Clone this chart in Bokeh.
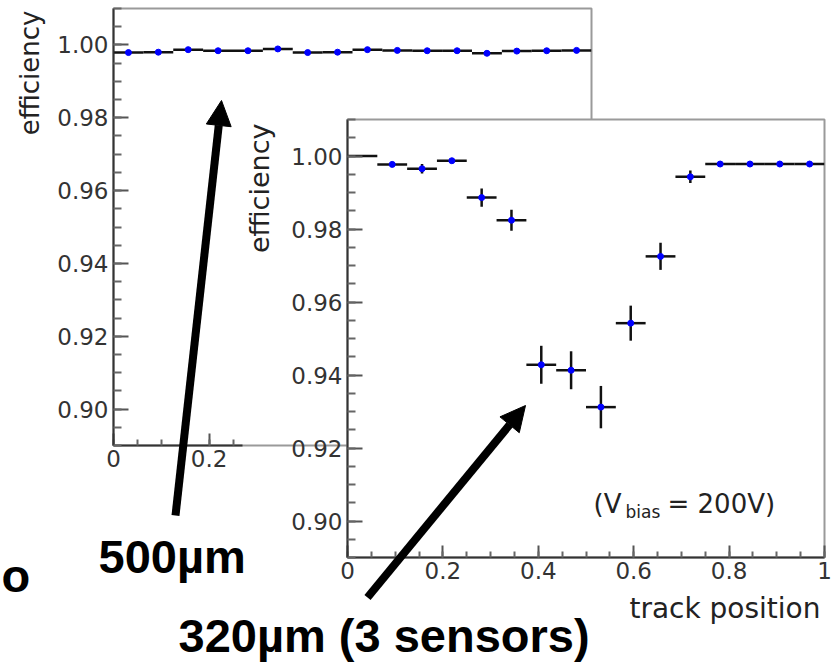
import numpy as np
from bokeh.plotting import figure
from bokeh.models import (ColumnDataSource, Range1d, SingleIntervalTicker, NumeralTickFormatter,
                          CustomJSTickFormatter, Label, Arrow, NormalHead)
from bokeh.embed import file_html
from bokeh.resources import INLINE

# ---------------- data ----------------
bin_width = 0.0625
bin_centers = [0.03125, 0.09375, 0.15625, 0.21875, 0.28125, 0.34375, 0.40625, 0.46875,
               0.53125, 0.59375, 0.65625, 0.71875, 0.78125, 0.84375, 0.90625, 0.96875]

# 500 um sensor (back panel)
eff_500 = [0.9979, 0.9980, 0.9987, 0.9984, 0.9984, 0.9989, 0.9979, 0.9980,
           0.9987, 0.9985, 0.9984, 0.9984, 0.9977, 0.9983, 0.9984, 0.9985]
err_500 = [0.0003, 0.0003, 0.0003, 0.0003, 0.0003, 0.0003, 0.0003, 0.0003,
           0.0003, 0.0003, 0.0003, 0.0003, 0.0003, 0.0003, 0.0003, 0.0003]

# 320 um (3 sensors) (front panel)
eff_320 = [1.0000, 0.9977, 0.9965, 0.9987, 0.9886, 0.9824, 0.9428, 0.9413,
           0.9312, 0.9542, 0.9725, 0.9943, 0.9978, 0.9978, 0.9978, 0.9978]
err_320 = [0.0000, 0.0007, 0.0013, 0.0004, 0.0025, 0.0029, 0.0052, 0.0052,
           0.0058, 0.0048, 0.0037, 0.0017, 0.0004, 0.0003, 0.0003, 0.0003]

y_label = "efficiency"
x_label = "track position"
label_500 = "500µm"
label_320 = "320µm (3 sensors)"

FONT = "DejaVu Sans"
BOLD = "Liberation Sans"
W, H = 835, 662


def make_source(eff, err, hide_full=False):
    x = np.array(bin_centers)
    e = np.array(eff)
    s = np.array(err)
    marker_y = np.where(e >= 1.0, np.nan, e) if hide_full else e
    return ColumnDataSource(dict(
        x=x, x0=x - bin_width / 2, x1=x + bin_width / 2,
        y=e, ylo=e - s, yhi=e + s, my=marker_y))


def style(p):
    p.xgrid.visible = False
    p.ygrid.visible = False
    p.background_fill_color = "white"
    p.outline_line_color = "#9a9a9a"
    p.outline_line_width = 2
    for ax in (p.xaxis[0], p.yaxis[0]):
        ax.axis_line_color = "#333333"
        ax.axis_line_width = 2
        ax.major_tick_line_color = "#555555"
        ax.minor_tick_line_color = "#666666"
        ax.major_tick_line_width = 2
        ax.minor_tick_line_width = 2
        ax.major_tick_out = 0
        ax.minor_tick_out = 0
        ax.major_label_text_font = FONT
        ax.major_label_text_font_size = "23px"
        ax.major_label_text_color = "#333333"
    p.xaxis.ticker = SingleIntervalTicker(interval=0.2, num_minor_ticks=4)
    p.yaxis.ticker = SingleIntervalTicker(interval=0.02, num_minor_ticks=4)
    p.xaxis.formatter = CustomJSTickFormatter(code="return Number(tick.toFixed(2)).toString();")
    p.yaxis.formatter = NumeralTickFormatter(format="0.00")
    p.xaxis.major_tick_in = 12
    p.xaxis.minor_tick_in = 6
    p.yaxis.major_tick_in = 15
    p.yaxis.minor_tick_in = 8
    p.yaxis.major_label_standoff = 5
    p.xaxis.major_label_standoff = 4


def draw_hist(p, src):
    p.segment(x0="x0", x1="x1", y0="y", y1="y", source=src, line_color="#111111", line_width=2.5)
    p.segment(x0="x", x1="x", y0="ylo", y1="yhi", source=src, line_color="#111111", line_width=2.5)
    p.scatter(x="x", y="my", source=src, size=6, marker="circle",
              fill_color="#0000ff", line_color="#0000ff")


# ---------------- back panel: 500um ----------------
p_back = figure(width=W, height=H, x_range=Range1d(0, 1), y_range=Range1d(0.89, 1.01),
                min_border_left=113, min_border_right=244, min_border_top=8, min_border_bottom=217,
                toolbar_location=None, output_backend="svg")
style(p_back)
p_back.xaxis.bounds = (0, 0.27)
p_back.border_fill_color = "white"
draw_hist(p_back, make_source(eff_500, err_500))

# ---------------- front panel: 320um ----------------
p_front = figure(width=W, height=H, x_range=Range1d(0, 1), y_range=Range1d(0.89, 1.01),
                 min_border_left=347, min_border_right=11, min_border_top=119, min_border_bottom=105,
                 toolbar_location=None, output_backend="svg")
style(p_front)
p_front.border_fill_alpha = 0
draw_hist(p_front, make_source(eff_320, err_320, hide_full=True))

# ---------------- overlay: texts and arrows (page pixel frame) ----------------
p_over = figure(width=W, height=H, x_range=Range1d(0, W), y_range=Range1d(H, 0),
                min_border=0, min_border_left=0, min_border_right=0, min_border_top=0,
                min_border_bottom=0, toolbar_location=None, output_backend="svg",
                x_axis_type=None, y_axis_type=None)
p_over.xgrid.visible = False
p_over.ygrid.visible = False
p_over.outline_line_color = None
p_over.background_fill_alpha = 0
p_over.border_fill_alpha = 0

SHIFT = 0.37  # baseline correction (fraction of font size)


def lab(x, y, text, size, font=FONT, bold=False, align="left", rotated=False, color="#222222"):
    if rotated:
        x = x - SHIFT * size
        angle = np.pi / 2
    else:
        y = y - SHIFT * size
        angle = 0.0
    p_over.add_layout(Label(x=x, y=y, text=text, angle=angle, text_align=align,
                            text_baseline="alphabetic", text_font=font,
                            text_font_style="bold" if bold else "normal",
                            text_font_size=f"{size}px", text_color=color))


lab(39, 10, y_label, 26, align="right", rotated=True)
lab(269, 123, y_label, 27, align="right", rotated=True)
lab(820, 618, x_label, 28, align="right")
lab(593, 513, "(V", 26)
lab(625, 518, "bias", 17)
lab(667, 513, "= 200V)", 26)
lab(98, 573, label_500, 47, font=BOLD, bold=True, color="black")
lab(178, 652, label_320, 47, font=BOLD, bold=True, color="black")
lab(1, 592, "o", 47, font=BOLD, bold=True, color="black")

for (xs, ys, xe, ye) in [(175, 515, 221, 100), (367, 597, 525, 405)]:
    p_over.add_layout(Arrow(end=NormalHead(size=25, fill_color="black", line_color="black"),
                            x_start=xs, y_start=ys, x_end=xe, y_end=ye,
                            line_width=8, line_color="black"))

for p in (p_back, p_front, p_over):
    p.styles = {"position": "absolute", "left": "0px", "top": "0px"}

open("out.html", "w").write(file_html([p_back, p_front, p_over], INLINE))
